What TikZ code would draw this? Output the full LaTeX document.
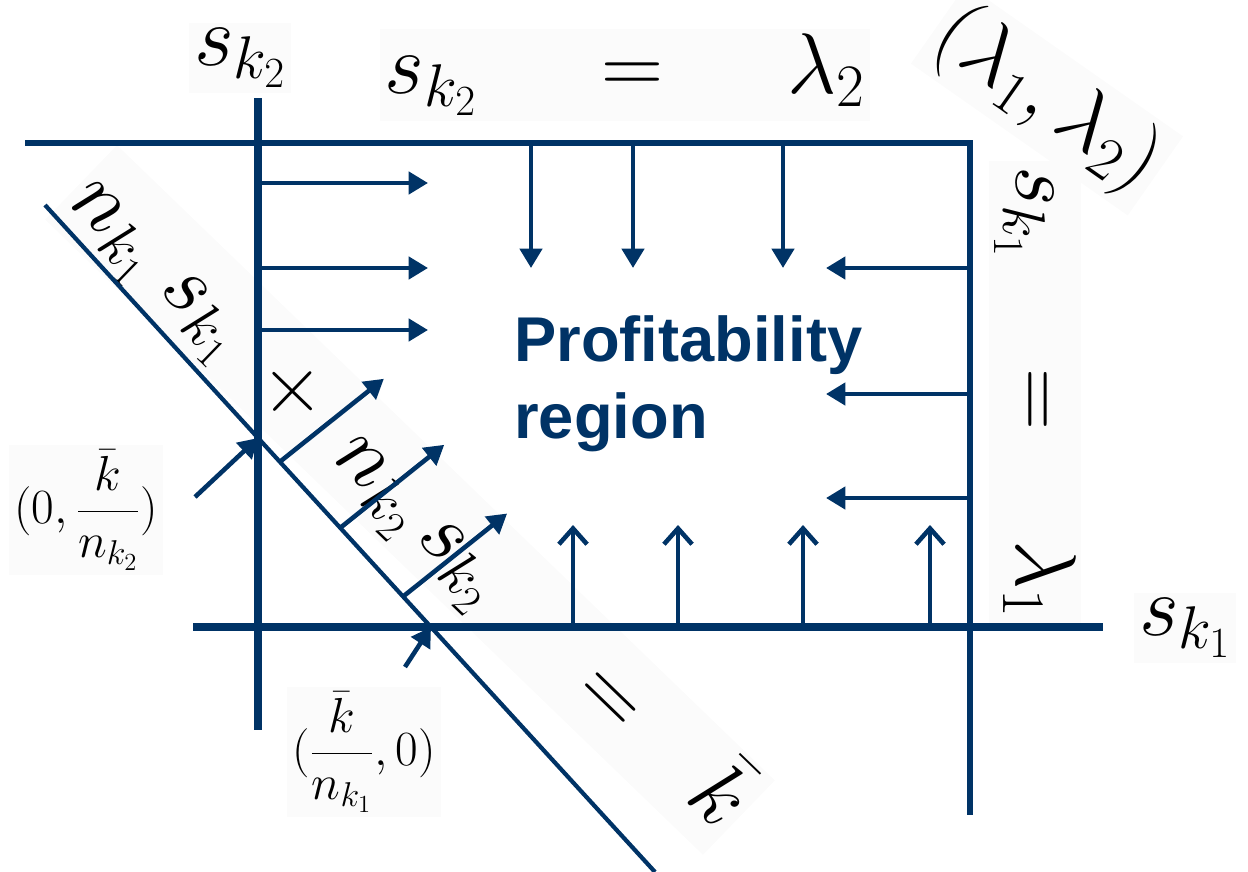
\documentclass[tikz,border=0pt]{standalone}
\usepackage{fix-cm}
\usepackage{amsmath}
\usepackage[no-math]{fontspec}
\newfontfamily\regionfont{Liberation Sans}
\usetikzlibrary{arrows.meta,calc}
\definecolor{navy}{RGB}{0,51,102}

\tikzset{
  axis/.style={navy, line width=4pt},
  bound/.style={navy, line width=3.2pt},
  diag/.style={navy, line width=2.4pt},
  push/.style={navy, line width=2.6pt, -{Triangle[length=11pt,width=12.5pt]}},
  lift/.style={navy, line width=2.6pt, -{Straight Barb[length=9pt,width=16pt]}},
  lbl/.style={fill=black!1.5, inner sep=3pt},
  big/.style={font=\fontsize{49}{56}\selectfont},
  small/.style={font=\fontsize{28}{32}\selectfont},
}

\begin{document}
\begin{tikzpicture}[x=0.02cm, y=-0.02cm]
    \useasboundingbox (0,0) rectangle (1248,872);
    % labels
    \node[lbl, big] (sktwo) at (240,58) {$s_{k_2}$};
    \node[lbl, big] (linetwo) at (625,75) {$s_{k_2}\quad\,=\quad\,\lambda_2$};
    \node[lbl, big, rotate=-35] (corner) at (1047,100) {$(\lambda_1,\lambda_2)$};
    \node[lbl, big, rotate=-90] (lineone) at (1035,392) {$s_{k_1}\quad=\quad\lambda_1$};
    \node[lbl, big] (skone) at (1185,628) {$s_{k_1}$};
    \node[lbl, big, rotate=-44] (budget) at (410,500)
        {$n_{k_1}\;s_{k_1}\;+\;n_{k_2}\,s_{k_2}\hspace{1.2em}=\hspace{0.8em}\bar{k}$};
    \node[lbl, small] (kylbl) at (86,510) {$(0,\dfrac{\bar{k}}{n_{k_2}})$};
    \node[lbl, small] (kxlbl) at (364,752) {$(\dfrac{\bar{k}}{n_{k_1}},0)$};
    \node[navy, anchor=west, align=left, inner sep=0pt,
          font=\regionfont\bfseries\fontsize{36}{44}\selectfont] (region) at (514,384)
        {Profitability\\region};

    % axes and limits
    \coordinate (dtop) at (45,205);
    \coordinate (dbot) at (655,872);
    \coordinate (ky) at (258,438);
    \coordinate (kx) at (431,627);
    \draw[axis] (258,98) -- (258,730);
    \draw[axis] (193,627) -- (1103,627);
    \draw[bound] (25,143) -- (970,143) -- (970,815);
    \draw[diag] (dtop) -- (dbot);

    % pushing arrows
    \foreach \y in {183,268,330}
        \draw[push] (258,\y) -- (428,\y);
    \foreach \x in {531,633,783}
        \draw[push] (\x,143) -- (\x,268);
    \foreach \y in {268,394,498}
        \draw[push] (970,\y) -- (826,\y);
    \foreach \x in {573,678,803,930}
        \draw[lift] (\x,627) -- (\x,525);
    \foreach \t in {0.385,0.484,0.587}
        \draw[push] ($(dtop)!\t!(dbot)$) -- ++(104,-83);

    % intercepts
    \draw[push] (195,497) -- (ky);
    \draw[push] (405,667) -- (kx);
\end{tikzpicture}
\end{document}
